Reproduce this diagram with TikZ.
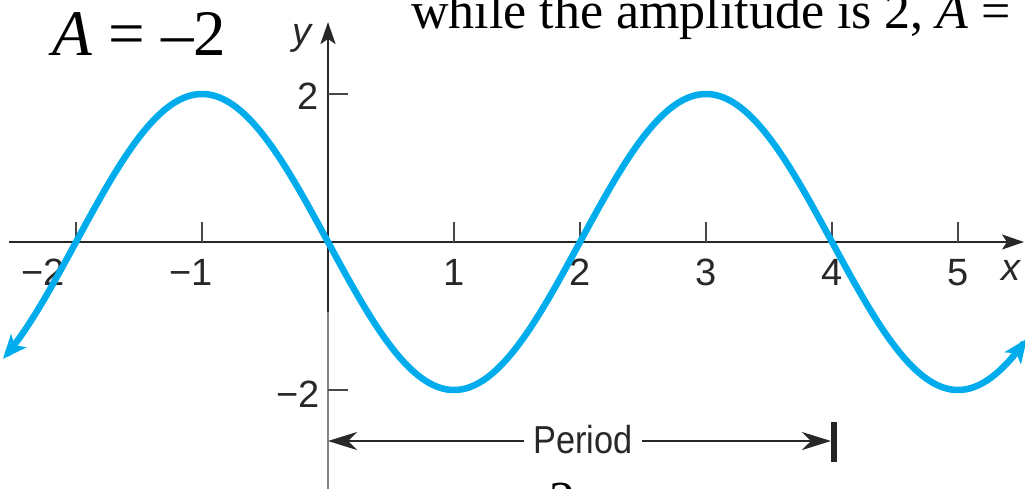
\documentclass[tikz,border=0pt]{standalone}
\usepackage{fontspec}
\setmainfont{Liberation Serif}
\newfontfamily\hv{Liberation Sans}
\newfontfamily\hvc[FakeStretch=0.88]{Liberation Sans}
\usetikzlibrary{arrows.meta}
\definecolor{curveblue}{RGB}{0,172,236}
\definecolor{axisdark}{RGB}{40,40,40}
\definecolor{axisgray}{RGB}{130,130,130}
\begin{document}
\begin{tikzpicture}[x=1pt,y=-1pt,
  axis/.style={line width=2.2pt, draw=axisdark},
  tickmark/.style={line width=2pt, draw=axisdark!85},
  lbl/.style={inner sep=0pt, font=\hv\fontsize{38}{38}\selectfont, text=axisdark},
  axtip/.style={-{Stealth[length=22pt,width=15pt,inset=5pt]}},
  ptip/.style={-{Stealth[length=29pt,width=18pt,inset=9pt]}},
  curve/.style={line width=6.5pt, draw=curveblue,
    {Stealth[length=24pt,width=20pt,inset=6pt]}-{Stealth[length=24pt,width=20pt,inset=6pt]}},
  bigtext/.style={inner sep=0pt, text=black}]
\useasboundingbox (0,0) rectangle (1025,488);
\clip (0,0) rectangle (1025,488);

% axes
\coordinate (O) at (328,242);
\coordinate (xl) at (9,242);
\coordinate (xr) at (1024,242);
\coordinate (yt) at (328,22);
\coordinate (ym) at (328,312);
\coordinate (yb) at (328,490);
\draw[axis, axtip] (xl) -- (xr);
\draw[line width=2.2pt, draw=axisgray] (yb) -- (ym);
\draw[axis, axtip] (ym) -- (yt);

% x ticks
\foreach \k in {-2,-1,1,2,3,4,5}{
  \draw[tickmark] ({328+126*\k},242) -- ({328+126*\k},222);
}
% y ticks
\draw[tickmark] (O |- 0,94) -- (348,94);
\draw[tickmark] (O |- 0,390) -- (348,390);

% tick labels
\node[lbl, anchor=base east] (lm2) at (65,285) {−2};
\node[lbl, anchor=base east] (lm1) at (213,285) {−1};
\node[lbl, anchor=base] (l1) at (454,285) {1};
\node[lbl, anchor=base] (l2) at (580,285) {2};
\node[lbl, anchor=base] (l3) at (706,285) {3};
\node[lbl, anchor=base] (l4) at (832,285) {4};
\node[lbl, anchor=base] (l5) at (958,285) {5};
\node[lbl, anchor=base east] (ly2) at (319,109) {2};
\node[lbl, anchor=base east] (lym2) at (320,407) {−2};
\node[lbl, anchor=base west, font=\hv\itshape\fontsize{38}{38}\selectfont] (ylab) at (292,44) {y};
\node[lbl, anchor=base, font=\hv\itshape\fontsize{38}{38}\selectfont] (xlab) at (1011,280) {x};

% curve y = -2 sin(pi x / 2)
\draw[curve] plot[domain=-2.58:5.55, samples=220, smooth] ({328+126*\x},{242+148*sin(90*\x)});

% period marker
\coordinate (pl) at (328,441);
\coordinate (pr) at (831,441);
\coordinate (bt) at (834,422);
\coordinate (bb) at (834,462);
\node[lbl, anchor=base, inner xsep=9pt, font=\hvc\fontsize{39}{39}\selectfont] (per) at (583,453) {Period};
\draw[line width=2pt, draw=axisdark, ptip] (per.west |- pl) -- (pl);
\draw[line width=2pt, draw=axisdark, ptip] (per.east |- pr) -- (pr);
\draw[line width=6.5pt, draw=axisdark!90!black] (bt) -- (bb);

% surrounding text
\node[bigtext, anchor=base west, font=\fontsize{65}{65}\selectfont] (Aeq) at (52,55) {\textit{A} = –2};
\node[bigtext, anchor=base west, font=\fontsize{52}{52}\selectfont] (while) at (411,28) {while the amplitude is 2, \textit{A} =};
\node[bigtext, anchor=base, font=\fontsize{52}{52}\selectfont] (two) at (562,517) {2};
\end{tikzpicture}
\end{document}
